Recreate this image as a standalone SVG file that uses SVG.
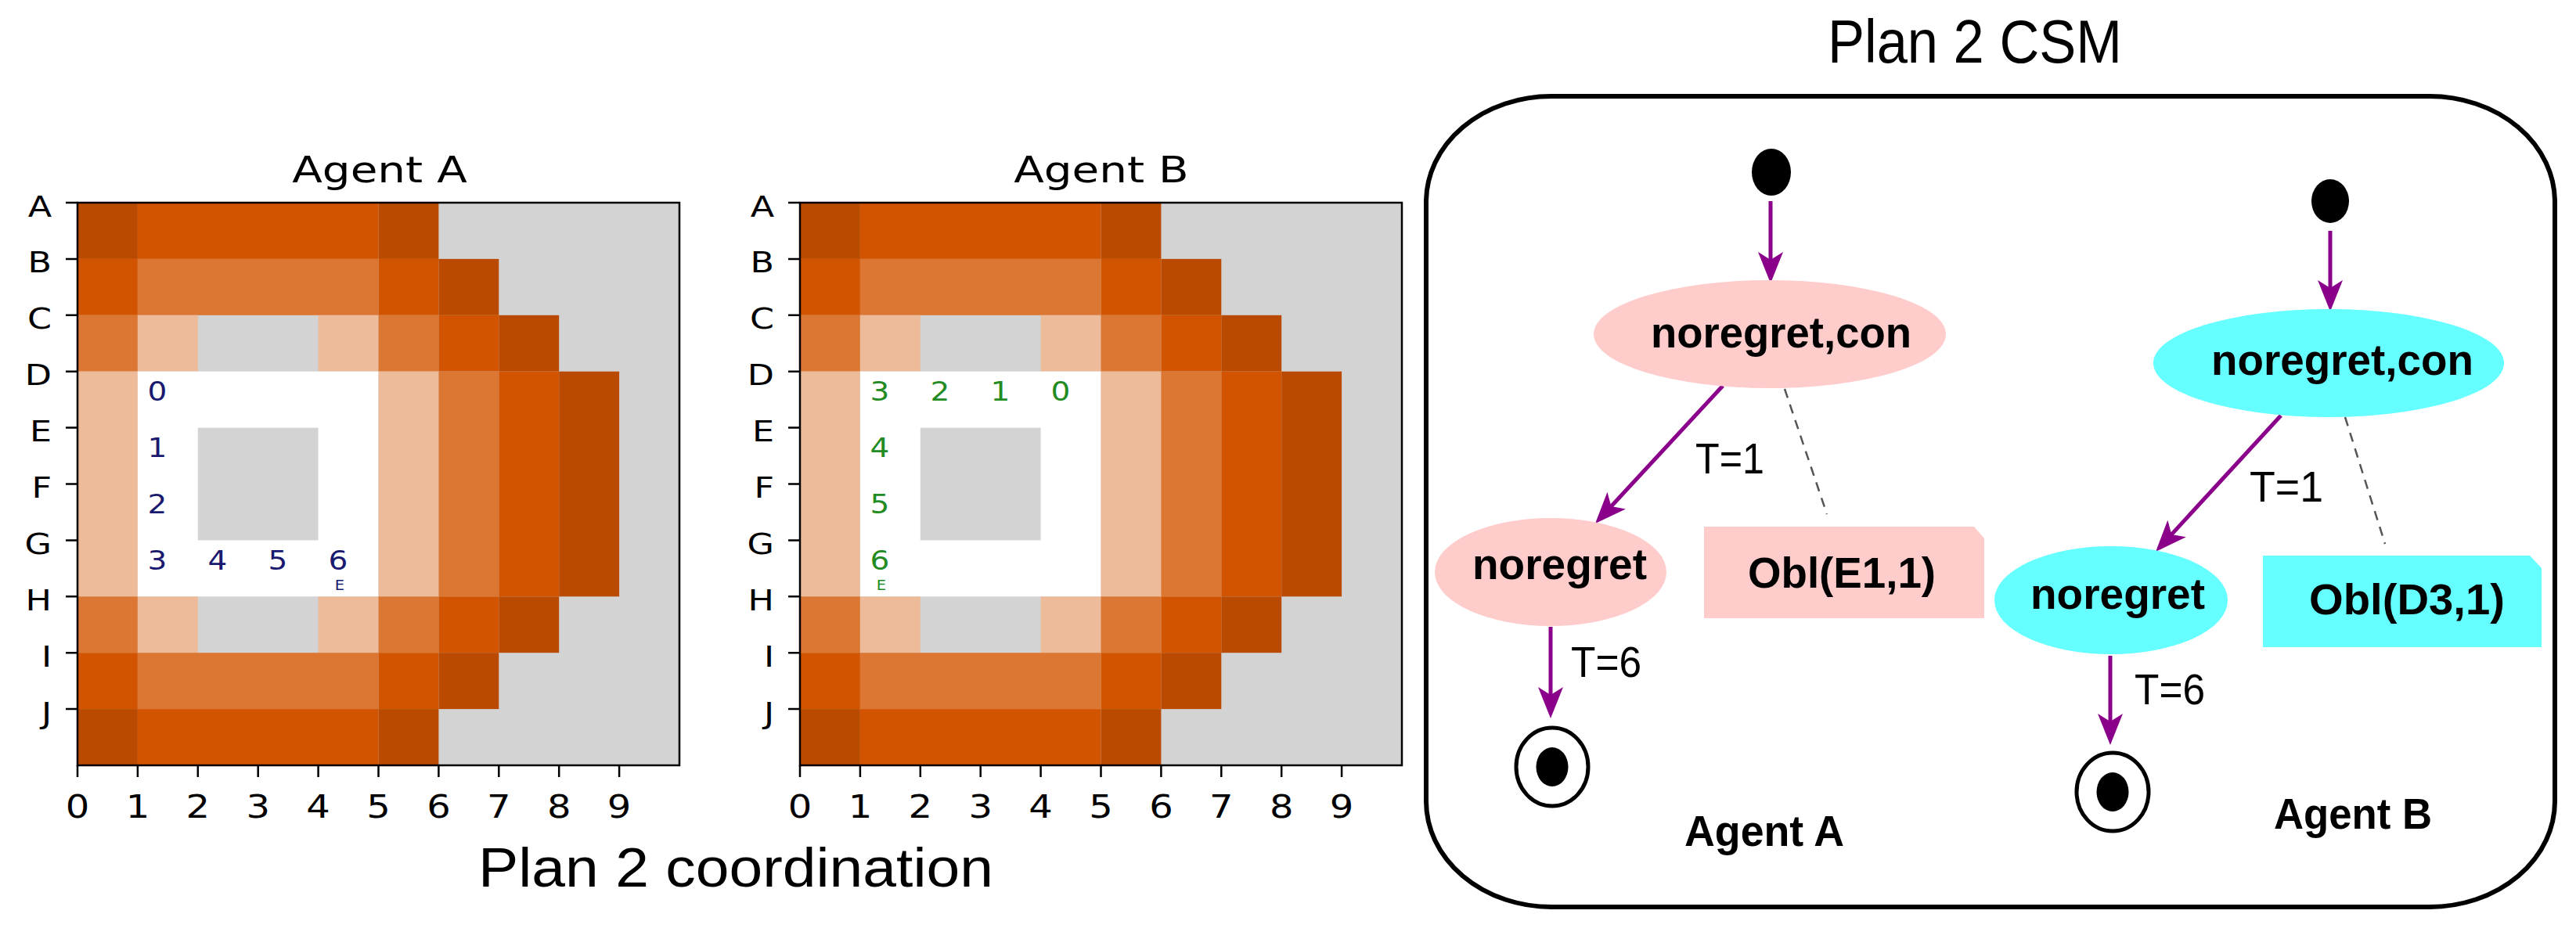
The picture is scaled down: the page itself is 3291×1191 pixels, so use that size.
<svg xmlns="http://www.w3.org/2000/svg" xmlns:xlink="http://www.w3.org/1999/xlink" width="3291" height="1191" viewBox="0 0 3291 1191">
<style>
.d{fill:#ba4a00}.o{fill:#d35400}.m{fill:#dc7633}.l{fill:#edbb99}.g{fill:#d3d3d3}.w{fill:#ffffff}
.ax{font-family:"DejaVu Sans",sans-serif;fill:#000}
.rl{font-size:37px;text-anchor:end}
.xl{font-size:40px;text-anchor:middle}
.tt{font-size:47px;text-anchor:middle}
.na{font-family:"DejaVu Sans",sans-serif;font-size:34px;fill:#191970;text-anchor:middle}
.nb{font-family:"DejaVu Sans",sans-serif;font-size:34px;fill:#228b22;text-anchor:middle}
.se{font-size:17px}
.cap{font-family:"Liberation Sans",Arial,sans-serif;fill:#000}
.b{font-family:"Liberation Sans",Arial,sans-serif;font-weight:bold;font-size:56px;fill:#000}
.t{font-family:"Liberation Sans",Arial,sans-serif;font-size:56px;fill:#000}
.spine{fill:none;stroke:#000;stroke-width:2.5}
.tick{fill:none;stroke:#000;stroke-width:2.5}
.arr{stroke:#8b008b;stroke-width:5;fill:none;marker-end:url(#ah)}
.dash{stroke:#555;stroke-width:2.5;stroke-dasharray:12 9;fill:none}
.pink{fill:#ffcccc}.cyan{fill:#66ffff}
</style>
<defs>
<marker id="ah" viewBox="0 0 40 32" refX="30" refY="16" markerWidth="40" markerHeight="32" markerUnits="userSpaceOnUse" orient="auto">
<path d="M0,0 L40,16 L0,32 L10,16 Z" fill="#8b008b"/>
</marker>
<g id="cells">
<rect class="g" x="0" y="0" width="10" height="10"/>
<rect class="d" x="0" y="0" width="1" height="1"/><rect class="o" x="1" y="0" width="4" height="1"/><rect class="d" x="5" y="0" width="1" height="1"/>
<rect class="o" x="0" y="1" width="1" height="1"/><rect class="m" x="1" y="1" width="4" height="1"/><rect class="o" x="5" y="1" width="1" height="1"/><rect class="d" x="6" y="1" width="1" height="1"/>
<rect class="m" x="0" y="2" width="1" height="1"/><rect class="l" x="1" y="2" width="1" height="1"/><rect class="l" x="4" y="2" width="1" height="1"/><rect class="m" x="5" y="2" width="1" height="1"/><rect class="o" x="6" y="2" width="1" height="1"/><rect class="d" x="7" y="2" width="1" height="1"/>
<rect class="l" x="0" y="3" width="1" height="4"/><rect class="w" x="1" y="3" width="4" height="4"/><rect class="l" x="5" y="3" width="1" height="4"/><rect class="m" x="6" y="3" width="1" height="4"/><rect class="o" x="7" y="3" width="1" height="4"/><rect class="d" x="8" y="3" width="1" height="4"/>
<rect class="g" x="2" y="4" width="2" height="2"/>
<rect class="m" x="0" y="7" width="1" height="1"/><rect class="l" x="1" y="7" width="1" height="1"/><rect class="l" x="4" y="7" width="1" height="1"/><rect class="m" x="5" y="7" width="1" height="1"/><rect class="o" x="6" y="7" width="1" height="1"/><rect class="d" x="7" y="7" width="1" height="1"/>
<rect class="o" x="0" y="8" width="1" height="1"/><rect class="m" x="1" y="8" width="4" height="1"/><rect class="o" x="5" y="8" width="1" height="1"/><rect class="d" x="6" y="8" width="1" height="1"/>
<rect class="d" x="0" y="9" width="1" height="1"/><rect class="o" x="1" y="9" width="4" height="1"/><rect class="d" x="5" y="9" width="1" height="1"/>
</g>
</defs>
<rect x="0" y="0" width="3291" height="1191" fill="#fff"/>

<!-- Agent A grid -->
<g id="gridA">
<use xlink:href="#cells" href="#cells" transform="translate(99,259) scale(76.9,71.9)"/>
<rect class="spine" x="99" y="259" width="769" height="719"/>
<path class="tick" d="M84,259H99M84,330.9H99M84,402.8H99M84,474.7H99M84,546.6H99M84,618.5H99M84,690.4H99M84,762.3H99M84,834.2H99M84,906.1H99M99,978V993M175.9,978V993M252.8,978V993M329.7,978V993M406.6,978V993M483.5,978V993M560.4,978V993M637.3,978V993M714.2,978V993M791.1,978V993"/>
<g class="ax rl">
<text transform="translate(66,276.5) scale(1.2,1)">A</text>
<text transform="translate(66,348.4) scale(1.2,1)">B</text>
<text transform="translate(66,420.3) scale(1.2,1)">C</text>
<text transform="translate(66,492.2) scale(1.2,1)">D</text>
<text transform="translate(66,564.1) scale(1.2,1)">E</text>
<text transform="translate(66,636) scale(1.2,1)">F</text>
<text transform="translate(66,707.9) scale(1.2,1)">G</text>
<text transform="translate(66,779.8) scale(1.2,1)">H</text>
<text transform="translate(66,851.7) scale(1.2,1)">I</text>
<text transform="translate(66,923.6) scale(1.2,1)">J</text>
</g>
<g class="ax xl">
<text transform="translate(99,1045) scale(1.2,1)">0</text>
<text transform="translate(175.9,1045) scale(1.2,1)">1</text>
<text transform="translate(252.8,1045) scale(1.2,1)">2</text>
<text transform="translate(329.7,1045) scale(1.2,1)">3</text>
<text transform="translate(406.6,1045) scale(1.2,1)">4</text>
<text transform="translate(483.5,1045) scale(1.2,1)">5</text>
<text transform="translate(560.4,1045) scale(1.2,1)">6</text>
<text transform="translate(637.3,1045) scale(1.2,1)">7</text>
<text transform="translate(714.2,1045) scale(1.2,1)">8</text>
<text transform="translate(791.1,1045) scale(1.2,1)">9</text>
</g>
<text class="ax tt" transform="translate(485,233) scale(1.2,1)">Agent A</text>
<g class="na">
<text transform="translate(201,512) scale(1.15,1)">0</text>
<text transform="translate(201,584) scale(1.15,1)">1</text>
<text transform="translate(201,656) scale(1.15,1)">2</text>
<text transform="translate(201,728) scale(1.15,1)">3</text>
<text transform="translate(278,728) scale(1.15,1)">4</text>
<text transform="translate(355,728) scale(1.15,1)">5</text>
<text transform="translate(432,728) scale(1.15,1)">6</text>
<text class="se" transform="translate(434,754) scale(1.15,1)">E</text>
</g>
</g>

<!-- Agent B grid -->
<g id="gridB">
<use xlink:href="#cells" href="#cells" transform="translate(1022,259) scale(76.9,71.9)"/>
<rect class="spine" x="1022" y="259" width="769" height="719"/>
<path class="tick" d="M1007,259H1022M1007,330.9H1022M1007,402.8H1022M1007,474.7H1022M1007,546.6H1022M1007,618.5H1022M1007,690.4H1022M1007,762.3H1022M1007,834.2H1022M1007,906.1H1022M1022,978V993M1098.9,978V993M1175.8,978V993M1252.7,978V993M1329.6,978V993M1406.5,978V993M1483.4,978V993M1560.3,978V993M1637.2,978V993M1714.1,978V993"/>
<g class="ax rl">
<text transform="translate(989,276.5) scale(1.2,1)">A</text>
<text transform="translate(989,348.4) scale(1.2,1)">B</text>
<text transform="translate(989,420.3) scale(1.2,1)">C</text>
<text transform="translate(989,492.2) scale(1.2,1)">D</text>
<text transform="translate(989,564.1) scale(1.2,1)">E</text>
<text transform="translate(989,636) scale(1.2,1)">F</text>
<text transform="translate(989,707.9) scale(1.2,1)">G</text>
<text transform="translate(989,779.8) scale(1.2,1)">H</text>
<text transform="translate(989,851.7) scale(1.2,1)">I</text>
<text transform="translate(989,923.6) scale(1.2,1)">J</text>
</g>
<g class="ax xl">
<text transform="translate(1022,1045) scale(1.2,1)">0</text>
<text transform="translate(1098.9,1045) scale(1.2,1)">1</text>
<text transform="translate(1175.8,1045) scale(1.2,1)">2</text>
<text transform="translate(1252.7,1045) scale(1.2,1)">3</text>
<text transform="translate(1329.6,1045) scale(1.2,1)">4</text>
<text transform="translate(1406.5,1045) scale(1.2,1)">5</text>
<text transform="translate(1483.4,1045) scale(1.2,1)">6</text>
<text transform="translate(1560.3,1045) scale(1.2,1)">7</text>
<text transform="translate(1637.2,1045) scale(1.2,1)">8</text>
<text transform="translate(1714.1,1045) scale(1.2,1)">9</text>
</g>
<text class="ax tt" transform="translate(1407,233) scale(1.2,1)">Agent B</text>
<g class="nb">
<text transform="translate(1124,512) scale(1.15,1)">3</text>
<text transform="translate(1201,512) scale(1.15,1)">2</text>
<text transform="translate(1278,512) scale(1.15,1)">1</text>
<text transform="translate(1355,512) scale(1.15,1)">0</text>
<text transform="translate(1124,584) scale(1.15,1)">4</text>
<text transform="translate(1124,656) scale(1.15,1)">5</text>
<text transform="translate(1124,728) scale(1.15,1)">6</text>
<text class="se" transform="translate(1126,754) scale(1.15,1)">E</text>
</g>
</g>

<text class="cap" x="611" y="1133" font-size="71" textLength="658" lengthAdjust="spacingAndGlyphs">Plan 2 coordination</text>
<text class="cap" x="2335" y="80" font-size="78" textLength="376" lengthAdjust="spacingAndGlyphs">Plan 2 CSM</text>

<!-- CSM frame -->
<rect x="1822" y="123" width="1442" height="1036" rx="160" ry="135" fill="none" stroke="#000" stroke-width="6"/>

<!-- connectors -->
<g id="connectors">
<line class="arr" x1="2262" y1="257" x2="2262" y2="352"/>
<line class="arr" x1="2201" y1="493" x2="2044.8" y2="661.7"/>
<line class="arr" x1="1981" y1="801" x2="1981" y2="908"/>
<line class="dash" x1="2280" y1="497" x2="2334" y2="657"/>
<line class="arr" x1="2977" y1="295" x2="2977" y2="388"/>
<line class="arr" x1="2914" y1="531" x2="2760.8" y2="697.6"/>
<line class="arr" x1="2696" y1="838" x2="2696" y2="942"/>
<line class="dash" x1="2996" y1="533" x2="3047" y2="695"/>
<text class="t" x="2166" y="605" textLength="88" lengthAdjust="spacingAndGlyphs">T=1</text>
<text class="t" x="2007" y="865" textLength="90" lengthAdjust="spacingAndGlyphs">T=6</text>
<text class="t" x="2874" y="641" textLength="94" lengthAdjust="spacingAndGlyphs">T=1</text>
<text class="t" x="2727" y="900" textLength="90" lengthAdjust="spacingAndGlyphs">T=6</text>
</g>

<!-- Agent A machine -->
<g id="initA"><ellipse cx="2263" cy="220" rx="25" ry="30" fill="#000"/></g>
<g id="conA">
<ellipse class="pink" cx="2261" cy="427" rx="225" ry="69"/>
<text class="b" x="2109" y="444" textLength="333" lengthAdjust="spacingAndGlyphs">noregret,con</text>
</g>
<g id="nrA">
<ellipse class="pink" cx="1981" cy="731" rx="148" ry="69"/>
<text class="b" x="1881" y="740" textLength="223" lengthAdjust="spacingAndGlyphs">noregret</text>
</g>
<g id="oblA">
<path class="pink" d="M2177,673H2522L2535,688V790H2177Z"/>
<text class="b" x="2233" y="751" textLength="240" lengthAdjust="spacingAndGlyphs">Obl(E1,1)</text>
</g>
<g id="finA">
<ellipse cx="1983" cy="980" rx="46" ry="50" fill="none" stroke="#000" stroke-width="5"/>
<ellipse cx="1983" cy="980" rx="20.5" ry="25" fill="#000"/>
</g>
<g id="labA"><text class="b" x="2152" y="1081" textLength="204" lengthAdjust="spacingAndGlyphs">Agent A</text></g>

<!-- Agent B machine -->
<g id="initB"><ellipse cx="2977" cy="257" rx="24" ry="28" fill="#000"/></g>
<g id="conB">
<ellipse class="cyan" cx="2975" cy="464" rx="224" ry="69"/>
<text class="b" x="2825" y="479" textLength="335" lengthAdjust="spacingAndGlyphs">noregret,con</text>
</g>
<g id="nrB">
<ellipse class="cyan" cx="2697" cy="767" rx="149" ry="69"/>
<text class="b" x="2594" y="778" textLength="223" lengthAdjust="spacingAndGlyphs">noregret</text>
</g>
<g id="oblB">
<path class="cyan" d="M2891,710H3232L3247,726V827H2891Z"/>
<text class="b" x="2950" y="785" textLength="250" lengthAdjust="spacingAndGlyphs">Obl(D3,1)</text>
</g>
<g id="finB">
<ellipse cx="2699" cy="1012" rx="46" ry="50" fill="none" stroke="#000" stroke-width="5"/>
<ellipse cx="2699" cy="1012" rx="20.5" ry="25" fill="#000"/>
</g>
<g id="labB"><text class="b" x="2905" y="1059" textLength="202" lengthAdjust="spacingAndGlyphs">Agent B</text></g>
</svg>
